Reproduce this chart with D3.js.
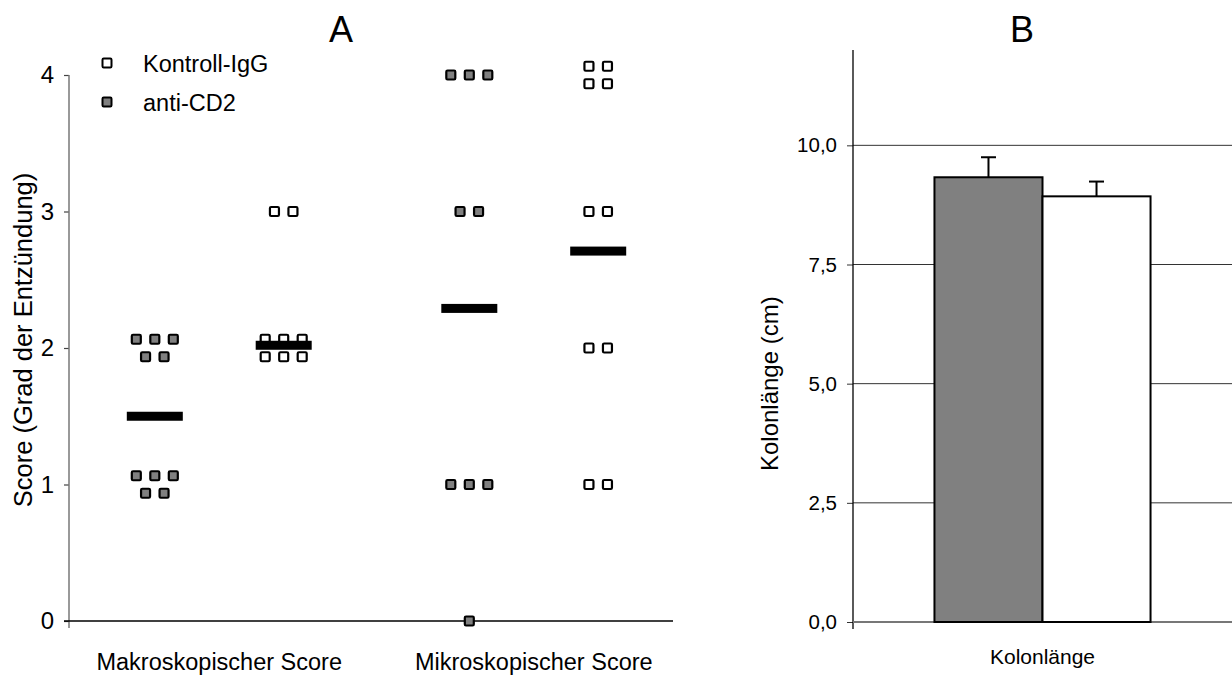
<!DOCTYPE html>
<html>
<head>
<meta charset="utf-8">
<script src="https://cdn.jsdelivr.net/npm/d3@7"></script>
<style>
  body { margin: 0; background: #fff; }
  svg { font-family: "Liberation Sans", Arial, sans-serif; }
</style>
</head>
<body>
<div id="chart"></div>
<script>
// panel A data
var categories = ["Makroskopischer Score", "Mikroskopischer Score"];
var series = ["anti-CD2", "Kontroll-IgG"];
var makroAnti = [2, 2, 2, 2, 2, 1, 1, 1, 1, 1];
var makroKontroll = [3, 3, 2, 2, 2, 2, 2, 2];
var mikroAnti = [4, 4, 4, 3, 3, 1, 1, 1, 0];
var mikroKontroll = [4, 4, 4, 4, 3, 3, 2, 2, 1, 1];
var lineAnti = [1.5, 2.29];
var lineKontroll = [2.02, 2.71];
var scoreTicks = [0, 1, 2, 3, 4];

// panel B data
var barCategory = ["Kolonlänge"];
var barMeans = [9.33, 8.93];
var barErrors = [0.42, 0.31];
var lengthTicks = [0, 2.5, 5, 7.5, 10];

var colors = {"anti-CD2": "#808080", "Kontroll-IgG": "#ffffff"};

var svg = d3.select("#chart")
    .append("svg")
    .attr("width", 1232)
    .attr("height", 675);

// ---------- panel A ----------
var yA = d3.scaleLinear().domain([0, 4]).range([621, 75]);
var x0 = d3.scaleBand().domain(categories).range([62, 691]);
var x1 = d3.scalePoint().domain(series).range([0, x0.bandwidth()]).padding(0.72);

var gA = svg.append("g");

// y axis
var axA = gA.append("g")
    .attr("transform", "translate(69,0)")
    .call(d3.axisLeft(yA).tickValues(scoreTicks).tickFormat(d3.format("d"))
        .tickSize(5).tickSizeOuter(0).tickPadding(10));
axA.select(".domain").remove();
axA.selectAll(".tick line").attr("stroke", "#444").attr("stroke-width", 1.2);
axA.selectAll(".tick text").attr("font-size", 24).attr("fill", "#000")
    .attr("font-family", "Liberation Sans, Arial, sans-serif");
gA.append("line")
    .attr("x1", 69).attr("x2", 69)
    .attr("y1", yA(4)).attr("y2", yA(0) + 7)
    .attr("stroke", "#777").attr("stroke-width", 1.5);

// x axis line
gA.append("line")
    .attr("x1", 64).attr("x2", 673)
    .attr("y1", yA(0)).attr("y2", yA(0))
    .attr("stroke", "#000").attr("stroke-width", 1.5);

// category labels
gA.selectAll(".catLabel")
    .data(categories)
    .enter()
    .append("text")
    .attr("x", function (d) { return x0(d) + x0.bandwidth() / 2; })
    .attr("y", 670)
    .attr("text-anchor", "middle")
    .attr("font-size", 23.5)
    .text(function (d) { return d; });

// axis title
gA.append("text")
    .attr("transform", "translate(32,340) rotate(-90)")
    .attr("text-anchor", "middle")
    .attr("font-size", 25.5)
    .text("Score (Grad der Entzündung)");

gA.append("text")
    .attr("x", 341).attr("y", 42)
    .attr("text-anchor", "middle")
    .attr("font-size", 36)
    .text("A");

// scatter groups
var groups = [
    {cat: categories[0], ser: series[0], values: makroAnti, line: lineAnti[0], rowMax: 3},
    {cat: categories[0], ser: series[1], values: makroKontroll, line: lineKontroll[0], rowMax: 3},
    {cat: categories[1], ser: series[0], values: mikroAnti, line: lineAnti[1], rowMax: 3},
    {cat: categories[1], ser: series[1], values: mikroKontroll, line: lineKontroll[1], rowMax: 2}
];

var dx = 18.5, dy = 17.5, sq = 9;

groups.forEach(function (g) {
    var cx = x0(g.cat) + x1(g.ser);
    var byValue = d3.group(g.values, function (v) { return v; });
    var pts = [];
    byValue.forEach(function (arr, v) {
        var n = arr.length;
        var nRows = Math.ceil(n / g.rowMax);
        for (var i = 0; i < n; i++) {
            var r = Math.floor(i / g.rowMax);
            var inRow = Math.min(g.rowMax, n - r * g.rowMax);
            var c = i - r * g.rowMax;
            pts.push({
                x: cx + (c - (inRow - 1) / 2) * dx,
                y: yA(v) + (r - (nRows - 1) / 2) * dy
            });
        }
    });

    gA.append("g").selectAll("rect")
        .data(pts)
        .enter()
        .append("rect")
        .attr("x", function (d) { return d.x - sq / 2; })
        .attr("y", function (d) { return d.y - sq / 2; })
        .attr("width", sq)
        .attr("height", sq)
        .attr("rx", 1.2)
        .attr("fill", colors[g.ser])
        .attr("stroke", "#000")
        .attr("stroke-width", 2.2);

    gA.append("rect")
        .attr("x", cx - 28)
        .attr("y", yA(g.line) - 4.5)
        .attr("width", 56)
        .attr("height", 9)
        .attr("fill", "#000");
});

// legend
var legend = gA.selectAll(".legend")
    .data(series.slice().reverse())
    .enter()
    .append("g")
    .attr("transform", function (d, i) { return "translate(107," + (63 + i * 39) + ")"; });
legend.append("rect")
    .attr("x", -sq / 2).attr("y", -sq / 2)
    .attr("width", sq).attr("height", sq)
    .attr("rx", 1.2)
    .attr("fill", function (d) { return colors[d]; })
    .attr("stroke", "#000")
    .attr("stroke-width", 2);
legend.append("text")
    .attr("x", 36).attr("y", 9)
    .attr("font-size", 23.5)
    .text(function (d) { return d; });

// ---------- panel B ----------
var yB = d3.scaleLinear().domain([0, 12]).range([622, 50]);
var xB = d3.scaleBand().domain(barCategory).range([853, 1232]).paddingOuter(0.377).paddingInner(0);
var xB1 = d3.scaleBand().domain(series).range([0, xB.bandwidth()]);
var deLocale = d3.formatLocale({decimal: ",", thousands: ".", grouping: [3], currency: ["", " €"]});

var gB = svg.append("g");

// gridlines
gB.selectAll(".grid")
    .data(lengthTicks.filter(function (t) { return t > 0; }))
    .enter()
    .append("line")
    .attr("x1", 853).attr("x2", 1232)
    .attr("y1", function (d) { return yB(d); })
    .attr("y2", function (d) { return yB(d); })
    .attr("stroke", "#333")
    .attr("stroke-width", 1);

var axB = gB.append("g")
    .attr("transform", "translate(853,0)")
    .call(d3.axisLeft(yB).tickValues(lengthTicks).tickFormat(deLocale.format(".1f"))
        .tickSize(6).tickSizeOuter(0).tickPadding(10));
axB.select(".domain").remove();
axB.selectAll(".tick line").attr("stroke", "#333");
axB.selectAll(".tick text").attr("font-size", 20.5).attr("fill", "#000")
    .attr("font-family", "Liberation Sans, Arial, sans-serif");
gB.append("line")
    .attr("x1", 853).attr("x2", 853)
    .attr("y1", yB(12)).attr("y2", yB(0) + 7)
    .attr("stroke", "#000").attr("stroke-width", 1.3);

// baseline
gB.append("line")
    .attr("x1", 853).attr("x2", 1232)
    .attr("y1", yB(0)).attr("y2", yB(0))
    .attr("stroke", "#777").attr("stroke-width", 2);

var barData = series.map(function (s, i) {
    return {ser: s, mean: barMeans[i], err: barErrors[i]};
});

var bars = gB.selectAll(".bar")
    .data(barData)
    .enter()
    .append("g");

bars.append("line")
    .attr("x1", function (d) { return xB(barCategory[0]) + xB1(d.ser) + xB1.bandwidth() / 2; })
    .attr("x2", function (d) { return xB(barCategory[0]) + xB1(d.ser) + xB1.bandwidth() / 2; })
    .attr("y1", function (d) { return yB(d.mean); })
    .attr("y2", function (d) { return yB(d.mean + d.err); })
    .attr("stroke", "#000").attr("stroke-width", 2);
bars.append("line")
    .attr("x1", function (d) { return xB(barCategory[0]) + xB1(d.ser) + xB1.bandwidth() / 2 - 7.5; })
    .attr("x2", function (d) { return xB(barCategory[0]) + xB1(d.ser) + xB1.bandwidth() / 2 + 7.5; })
    .attr("y1", function (d) { return yB(d.mean + d.err); })
    .attr("y2", function (d) { return yB(d.mean + d.err); })
    .attr("stroke", "#000").attr("stroke-width", 2);

bars.append("rect")
    .attr("x", function (d) { return xB(barCategory[0]) + xB1(d.ser); })
    .attr("y", function (d) { return yB(d.mean); })
    .attr("width", xB1.bandwidth())
    .attr("height", function (d) { return yB(0) - yB(d.mean); })
    .attr("fill", function (d) { return colors[d.ser]; })
    .attr("stroke", "#000")
    .attr("stroke-width", 2);

gB.append("text")
    .attr("x", xB(barCategory[0]) + xB.bandwidth() / 2)
    .attr("y", 664)
    .attr("text-anchor", "middle")
    .attr("font-size", 21)
    .text(barCategory[0]);

gB.append("text")
    .attr("transform", "translate(778," + yB(5) + ") rotate(-90)")
    .attr("text-anchor", "middle")
    .attr("font-size", 24)
    .text("Kolonlänge (cm)");

gB.append("text")
    .attr("x", 1022).attr("y", 42)
    .attr("text-anchor", "middle")
    .attr("font-size", 36)
    .text("B");
</script>
</body>
</html>
